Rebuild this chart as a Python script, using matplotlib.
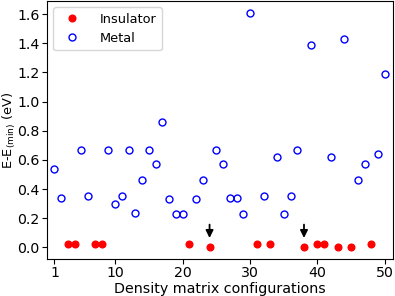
import matplotlib
matplotlib.use("Agg")
import matplotlib.pyplot as plt

config = list(range(1, 51))
phase = ["M", "M", "I", "I", "M", "M", "I", "I", "M", "M",
         "M", "M", "M", "M", "M", "M", "M", "M", "M", "M",
         "I", "M", "M", "I", "M", "M", "M", "M", "M", "M",
         "I", "M", "I", "M", "M", "M", "M", "I", "M", "I",
         "I", "M", "I", "M", "I", "M", "M", "I", "M", "M"]
energy = [0.54, 0.34, 0.02, 0.02, 0.67, 0.35, 0.02, 0.02, 0.67, 0.30,
          0.35, 0.67, 0.235, 0.46, 0.67, 0.57, 0.86, 0.33, 0.23, 0.23,
          0.02, 0.33, 0.46, 0.00, 0.67, 0.57, 0.34, 0.34, 0.23, 1.61,
          0.02, 0.35, 0.02, 0.62, 0.23, 0.35, 0.67, 0.00, 1.39, 0.02,
          0.02, 0.62, 0.00, 1.43, 0.00, 0.46, 0.57, 0.02, 0.64, 1.19]
arrow_configs = [24, 38]
xticks = [1, 10, 20, 30, 40, 50]

ins_x = [c for c, p in zip(config, phase) if p == "I"]
ins_y = [e for e, p in zip(energy, phase) if p == "I"]
met_x = [c for c, p in zip(config, phase) if p == "M"]
met_y = [e for e, p in zip(energy, phase) if p == "M"]

fig = plt.figure(figsize=(3.95, 2.96), dpi=100)
ax = fig.add_axes([0.119, 0.125, 0.876, 0.872])

ax.plot(ins_x, ins_y, 'o', color='red', markersize=4.8, linestyle='none', label='Insulator')
ax.plot(met_x, met_y, 'o', markerfacecolor='none', markeredgecolor='blue', markeredgewidth=1.0,
        markersize=5, linestyle='none', label='Metal')

for c in arrow_configs:
    ax.annotate('', xy=(c, 0.045), xytext=(c, 0.175),
                arrowprops=dict(arrowstyle='-|>', color='black', lw=1.3, mutation_scale=11))

ax.set_xlim(-0.1, 51.2)
ax.set_ylim(-0.08, 1.69)
ax.set_xticks(xticks)
ax.set_yticks([0.0, 0.2, 0.4, 0.6, 0.8, 1.0, 1.2, 1.4, 1.6])
ax.set_yticklabels(['0.0', '0.2', '0.4', '0.6', '0.8', '1.0', '1.2', '1.4', '1.6'])
ax.tick_params(labelsize=10.2, length=3.5, pad=2)
ax.tick_params(axis='x', pad=1.5)
ax.set_xlabel('Density matrix configurations', fontsize=10.3)
ax.xaxis.label.set_verticalalignment('bottom')
ax.xaxis.set_label_coords(0.5, -0.142)
ax.set_ylabel('E-E$_{(\\mathrm{min})}$ (eV)', fontsize=9.3)
ax.yaxis.set_label_coords(-0.083, 0.5)
ax.legend(loc='upper left', fontsize=9.3, handletextpad=1.2, borderaxespad=0.5, markerscale=1.0)

fig.savefig('out.png', dpi=100)
